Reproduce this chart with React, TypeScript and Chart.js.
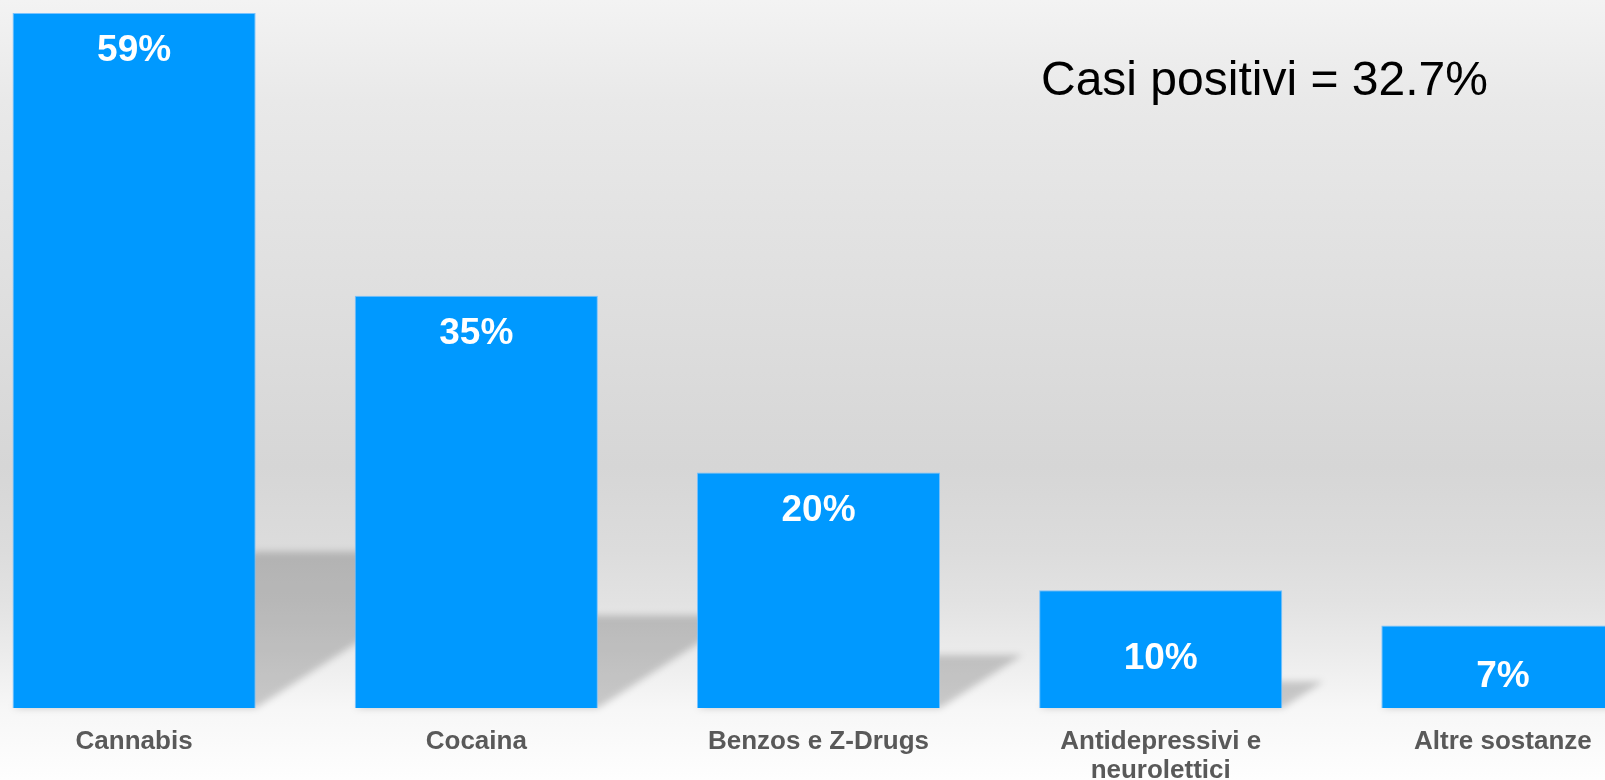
import React, { useEffect, useRef } from "react";
import { Chart, registerables } from "chart.js";

Chart.register(...registerables);

const categories: (string | string[])[] = [
  "Cannabis",
  "Cocaina",
  "Benzos e Z-Drugs",
  ["Antidepressivi e", "neurolettici"],
  "Altre sostanze",
];
const percentages: number[] = [59, 35, 20, 10, 7];
const valueLabels: string[] = ["59%", "35%", "20%", "10%", "7%"];
const annotationText = "Casi positivi = 32.7%";

const BAR_COLOR = "#0099FF";
const CANVAS_LEFT = -37;
const CANVAS_W = 1711;
const CANVAS_H = 780;

const shadowPlugin = {
  id: "barShadows",
  beforeDatasetsDraw(chart: any) {
    const ctx = chart.ctx;
    const meta = chart.getDatasetMeta(0);
    ctx.save();
    ctx.filter = "blur(3.5px)";
    ctx.fillStyle = "rgba(0,0,0,0.19)";
    meta.data.forEach((bar: any) => {
      const left = bar.x - bar.width / 2;
      const right = bar.x + bar.width / 2;
      const h = bar.base - bar.y;
      const sh = 0.225 * h;
      const off = 1.55 * sh;
      ctx.beginPath();
      ctx.moveTo(left, bar.base);
      ctx.lineTo(right, bar.base);
      ctx.lineTo(right + off, bar.base - sh);
      ctx.lineTo(left + off, bar.base - sh);
      ctx.closePath();
      ctx.fill();
    });
    ctx.restore();
  },
};

const labelPlugin = {
  id: "valueLabels",
  afterDatasetsDraw(chart: any) {
    const ctx = chart.ctx;
    const meta = chart.getDatasetMeta(0);
    ctx.save();
    ctx.fillStyle = "#ffffff";
    ctx.font = "bold 37px 'Liberation Sans', Arial, sans-serif";
    ctx.textAlign = "center";
    ctx.textBaseline = "middle";
    meta.data.forEach((bar: any, i: number) => {
      const h = bar.base - bar.y;
      const y = h > 150 ? bar.y + 38 : (bar.y + bar.base) / 2 + 10;
      ctx.fillText(valueLabels[i], bar.x, y);
    });
    // annotation text
    ctx.fillStyle = "#000000";
    ctx.font = "48px 'Liberation Sans', Arial, sans-serif";
    ctx.textAlign = "left";
    ctx.textBaseline = "alphabetic";
    ctx.fillText(annotationText, 1041 - CANVAS_LEFT, 95);
    ctx.restore();
  },
};

export default function App() {
  const ref = useRef<HTMLCanvasElement | null>(null);

  useEffect(() => {
    if (!ref.current) return;
    const chart = new Chart(ref.current, {
      type: "bar",
      data: {
        labels: categories,
        datasets: [
          {
            data: percentages,
            backgroundColor: BAR_COLOR,
            borderColor: "rgba(110,190,255,0.9)",
            borderWidth: 1,
            categoryPercentage: 1,
            barPercentage: 0.7105,
          },
        ],
      },
      options: {
        responsive: false,
        animation: false,
        devicePixelRatio: 1,
        layout: { padding: { top: 13, left: 0, right: 0, bottom: 0 } },
        plugins: {
          legend: { display: false },
          title: { display: false },
          tooltip: { enabled: false },
        },
        scales: {
          x: {
            type: "category",
            border: { display: false },
            grid: { display: false, drawTicks: false },
            afterFit: (scale: any) => {
              scale.height = 72;
            },
            ticks: {
              autoSkip: false,
              maxRotation: 0,
              minRotation: 0,
              padding: 19,
              color: "#595959",
              font: {
                family: "'Liberation Sans', Arial, sans-serif",
                size: 26,
                weight: "bold",
                lineHeight: "29px",
              },
            },
          },
          y: {
            display: false,
            min: 0,
            max: 59,
          },
        },
      },
      plugins: [shadowPlugin, labelPlugin],
    });
    return () => chart.destroy();
  }, []);

  return (
    <div
      style={{
        position: "absolute",
        left: 0,
        top: 0,
        width: 1605,
        height: 780,
        overflow: "hidden",
        background:
          "linear-gradient(to bottom, #f3f3f3 0px, #e9e9e9 100px, #d6d6d6 467px, #dcdcdc 550px, #e2e2e2 600px, #ebebeb 650px, #f7f7f7 710px, #fefefe 780px)",
      }}
    >
      <canvas
        ref={ref}
        width={CANVAS_W}
        height={CANVAS_H}
        style={{ position: "absolute", left: CANVAS_LEFT, top: 0, width: CANVAS_W, height: CANVAS_H }}
      />
    </div>
  );
}
